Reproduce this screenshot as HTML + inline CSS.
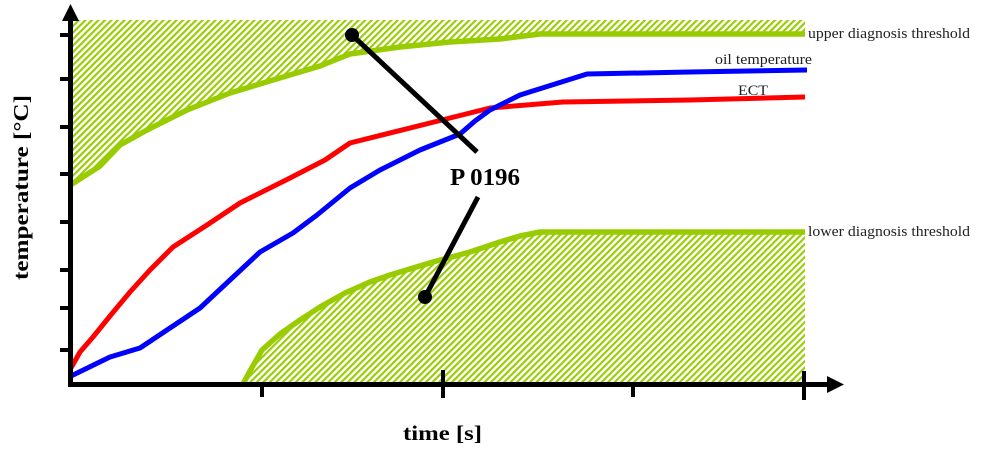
<!DOCTYPE html>
<html>
<head>
<meta charset="utf-8">
<style>
  html, body { margin: 0; padding: 0; background: #ffffff; }
  body { width: 982px; height: 455px; overflow: hidden; }
  svg { display: block; }
</style>
</head>
<body>
<svg width="982" height="455" viewBox="0 0 982 455" xmlns="http://www.w3.org/2000/svg">
  <defs>
    <pattern id="hatch" patternUnits="userSpaceOnUse" width="4.6" height="10" patternTransform="rotate(45)">
      <rect x="0" y="0" width="2.1" height="10" fill="#99cc00"/>
    </pattern>
  </defs>
  <rect x="0" y="0" width="982" height="455" fill="#ffffff"/>

  <!-- upper hatched region -->
  <polygon fill="url(#hatch)" points="72,20 805,20 805,35 540,35 500,39 450,42 400,47 350,54 320,66 273,80 230,93 187,110 147,130 120,145 100,166 72,184"/>
  <!-- lower hatched region -->
  <polygon fill="url(#hatch)" points="243,384 250,371 262,350 280,334 300,320 320,307 345,293 370,282 390,275 433,262 470,252 500,242 520,236 540,232 805,232 805,384"/>

  <!-- upper threshold line -->
  <polyline fill="none" stroke="#99cc00" stroke-width="5.5" stroke-linejoin="round" stroke-linecap="butt"
    points="72,184 100,166 120,145 147,130 187,110 230,93 273,80 320,66 350,54 400,47 450,42 500,39 540,34 805,34"/>
  <!-- lower threshold line -->
  <polyline fill="none" stroke="#99cc00" stroke-width="5.5" stroke-linejoin="round" stroke-linecap="butt"
    points="243,384 250,371 262,350 280,334 300,320 320,307 345,293 370,282 390,275 433,262 470,252 500,242 520,236 540,232 805,232"/>

  <!-- ECT (red) -->
  <polyline fill="none" stroke="#ff0000" stroke-width="5" stroke-linejoin="round"
    points="71,368 80,352 93,337 110,316 130,292 150,270 173,247 207,225 240,203 290,178 325,160 350,143 430,123 490,108 563,102 690,100 805,97"/>
  <!-- oil temperature (blue) -->
  <polyline fill="none" stroke="#0000ff" stroke-width="5" stroke-linejoin="round"
    points="71,376 110,357 140,348 170,328 200,308 230,280 260,252 293,233 317,215 350,188 380,170 420,150 460,134 475,121 490,110 520,95 587,74 690,72 807,70"/>

  <!-- P 0196 pointer lines -->
  <line x1="352" y1="35" x2="477" y2="152" stroke="#000" stroke-width="5"/>
  <circle cx="352" cy="35" r="7" fill="#000"/>
  <line x1="478" y1="197" x2="425" y2="297" stroke="#000" stroke-width="5"/>
  <circle cx="425" cy="297" r="7" fill="#000"/>

  <!-- axes -->
  <line x1="70.5" y1="18" x2="70.5" y2="387" stroke="#000" stroke-width="5"/>
  <polygon points="70.5,4 79,21 62,21" fill="#000"/>
  <line x1="68" y1="384.5" x2="830" y2="384.5" stroke="#000" stroke-width="5"/>
  <polygon points="844,384.5 827,376 827,393" fill="#000"/>

  <!-- y ticks -->
  <g stroke="#000" stroke-width="4">
    <line x1="60" y1="35" x2="70" y2="35"/>
    <line x1="60" y1="79" x2="70" y2="79"/>
    <line x1="60" y1="127" x2="70" y2="127"/>
    <line x1="60" y1="174" x2="70" y2="174"/>
    <line x1="60" y1="222" x2="70" y2="222"/>
    <line x1="60" y1="270" x2="70" y2="270"/>
    <line x1="60" y1="308" x2="70" y2="308"/>
    <line x1="60" y1="350" x2="70" y2="350"/>
  </g>
  <!-- x ticks -->
  <g stroke="#000" stroke-width="4">
    <line x1="262" y1="384" x2="262" y2="397"/>
    <line x1="443" y1="370" x2="443" y2="398"/>
    <line x1="633" y1="384" x2="633" y2="397"/>
    <line x1="804" y1="371" x2="804" y2="400"/>
  </g>

  <!-- labels -->
  <g font-family="'Liberation Serif', 'DejaVu Serif', serif" fill="#222">
    <text x="808" y="38" font-size="15" textLength="162" lengthAdjust="spacingAndGlyphs">upper diagnosis threshold</text>
    <text x="715" y="64" font-size="15" textLength="97" lengthAdjust="spacingAndGlyphs">oil temperature</text>
    <text x="738" y="95" font-size="15" textLength="30" lengthAdjust="spacingAndGlyphs">ECT</text>
    <text x="808" y="236" font-size="15" textLength="162" lengthAdjust="spacingAndGlyphs">lower diagnosis threshold</text>
  </g>
  <g font-family="'Liberation Serif', 'DejaVu Serif', serif" font-weight="bold" fill="#000">
    <text x="450" y="185" font-size="24" textLength="70" lengthAdjust="spacingAndGlyphs">P 0196</text>
    <text x="403" y="440" font-size="21" textLength="79" lengthAdjust="spacingAndGlyphs">time [s]</text>
    <text x="0" y="0" font-size="21" textLength="185" lengthAdjust="spacingAndGlyphs" transform="translate(28,280) rotate(-90)">temperature [°C]</text>
  </g>
</svg>
</body>
</html>
